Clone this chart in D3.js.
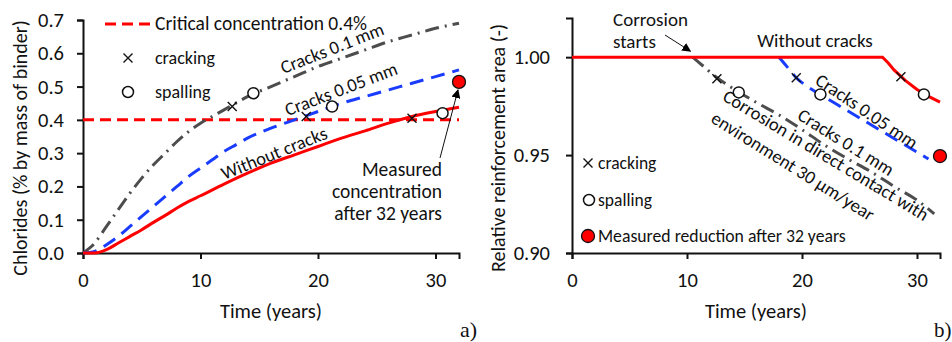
<!DOCTYPE html>
<html>
<head>
<meta charset="utf-8">
<script src="https://cdn.jsdelivr.net/npm/d3@7"></script>
<style>
  html, body { margin: 0; padding: 0; background: #fff; }
  svg { display: block; }
  text { font-family: Carlito, Lato, "Open Sans", sans-serif; fill: #111; }
  .axis path, .axis line { stroke: #111; stroke-width: 2; }
  .axis text { font-size: 20.5px; }
</style>
</head>
<body>
<svg id="chart" width="952" height="342"></svg>
<script>
// ---------- Data: panel a) chlorides ----------
const xTicks = [0, 10, 20, 30];
const chlorideTicks = [0, 0.1, 0.2, 0.3, 0.4, 0.5, 0.6, 0.7];
const criticalLevel = 0.4;
const chlorideNoCracks = [[0,0],[1,0],[2,0.01],[3,0.03],[4,0.05],[5,0.07],[6,0.092],[7,0.113],[8,0.135],[9,0.155],[10,0.172],[12,0.207],[14,0.24],[16,0.27],[18,0.295],[20,0.32],[22,0.345],[24,0.367],[26,0.39],[28,0.41],[30,0.425],[32,0.438]];
const chlorideCracks005 = [[0,0],[1,0.005],[2,0.025],[3,0.05],[4,0.08],[5,0.11],[6,0.14],[7,0.17],[8,0.2],[9,0.23],[10,0.255],[11,0.28],[12,0.305],[13,0.325],[14,0.345],[16,0.375],[18,0.4],[20,0.425],[22,0.45],[24,0.47],[26,0.49],[28,0.51],[30,0.53],[32,0.55]];
const chlorideCracks01 = [[0,0],[1,0.03],[2,0.08],[3,0.13],[4,0.18],[5,0.225],[6,0.265],[7,0.3],[8,0.335],[9,0.365],[10,0.39],[11,0.41],[12,0.43],[13,0.45],[14,0.47],[16,0.5],[18,0.53],[20,0.56],[22,0.585],[24,0.61],[26,0.635],[28,0.655],[30,0.675],[32,0.69]];
const chlorideCracking = [[12.7,0.44],[19,0.41],[28,0.405]];
const chlorideSpalling = [[14.5,0.48],[21.2,0.44],[30.6,0.42]];
const chlorideMeasured = [[32,0.514]];

// ---------- Data: panel b) reinforcement area ----------
const areaTicks = [0.90, 0.95, 1.00];
const areaNoCracks = [[0,1],[27,1],[27.5,0.997],[28,0.9935],[29,0.988],[30,0.9835],[31,0.98],[32,0.977]];
const areaCracks005 = [[18,1.0],[18.5,0.9965],[19,0.993],[19.5,0.9895],[20,0.987],[21,0.983],[22,0.9795],[24,0.9725],[26,0.9655],[28,0.9585],[30,0.9515],[31,0.948]];
const areaCracks01 = [[10.5,1],[11.5,0.995],[12.5,0.99],[14,0.984],[16,0.977],[18,0.9705],[20,0.963],[22,0.955],[24,0.948],[26,0.9415],[28,0.934],[30,0.927],[31.5,0.92]];
const areaCracking = [[12.6,0.989],[19.5,0.9895],[28.6,0.99]];
const areaSpalling = [[14.5,0.982],[21.6,0.981],[30.6,0.981]];
const areaMeasured = [[32,0.9495]];

const RED = "#ff0000", BLUE = "#1a3cff", GRAY = "#4d4d4d";
const svg = d3.select("#chart");

const defs = svg.append("defs");
defs.append("marker").attr("id","arrow").attr("viewBox","0 0 10 10")
  .attr("refX",9).attr("refY",5).attr("markerWidth",9).attr("markerHeight",9)
  .attr("markerUnits","userSpaceOnUse").attr("orient","auto")
  .append("path").attr("d","M0,0 L10,5 L0,10 z").attr("fill","#000");

function panel(opts) {
  const g = svg.append("g");
  const x = d3.scaleLinear().domain([0,32]).range(opts.xr);
  const y = d3.scaleLinear().domain(opts.yd).range(opts.yr);
  g.append("g").attr("class","axis").attr("transform",`translate(0,${opts.yr[0]})`)
    .call(d3.axisBottom(x).tickValues(xTicks).tickSizeOuter(0).tickSize(6).tickPadding(13));
  g.append("g").attr("class","axis").attr("transform",`translate(${opts.xr[0]},0)`)
    .call(d3.axisLeft(y).tickValues(opts.yTicks).tickFormat(d3.format(opts.fmt)).tickSizeOuter(0).tickSize(6).tickPadding(opts.yPad));
  return {g, x, y};
}

function drawLine(p, data, color, dash, curve) {
  p.g.append("path").datum(data)
    .attr("d", d3.line().x(d=>p.x(d[0])).y(d=>p.y(d[1])).curve(curve || d3.curveMonotoneX))
    .attr("fill","none").attr("stroke",color).attr("stroke-width",3)
    .attr("stroke-dasharray", dash);
}
function drawCross(g, cx, cy) {
  const s = 4.5;
  g.append("path").attr("d",`M${cx-s},${cy-s}L${cx+s},${cy+s}M${cx-s},${cy+s}L${cx+s},${cy-s}`)
    .attr("stroke","#111").attr("stroke-width",1.4).attr("fill","none");
}
function drawOpen(g, cx, cy) {
  g.append("circle").attr("cx",cx).attr("cy",cy).attr("r",5.5)
    .attr("fill","#fff").attr("stroke","#111").attr("stroke-width",1.5);
}
function drawMeasured(g, cx, cy) {
  g.append("circle").attr("cx",cx).attr("cy",cy).attr("r",6.5)
    .attr("fill",RED).attr("stroke","#111").attr("stroke-width",1.3);
}
function rotText(g, txt, cx, cy, ang, size) {
  g.append("text").attr("transform",`translate(${cx},${cy}) rotate(${ang})`)
    .attr("text-anchor","middle").attr("dominant-baseline","central")
    .style("font-size", size+"px").text(txt);
}
function label(g, txt, x, y, size, anchor) {
  return g.append("text").attr("x",x).attr("y",y).attr("text-anchor",anchor||"start")
    .style("font-size", size+"px").text(txt);
}

// ================= Panel a =================
const A = panel({xr:[83,459], yd:[0,0.7], yr:[253,20], yTicks: chlorideTicks, fmt: ".1f", yPad: 13});
A.g.append("line").attr("x1",A.x(0)).attr("x2",A.x(32)).attr("y1",A.y(criticalLevel)).attr("y2",A.y(criticalLevel))
  .attr("stroke",RED).attr("stroke-width",3).attr("stroke-dasharray","11,6");
drawLine(A, chlorideCracks01, GRAY, "14,6,2,6");
drawLine(A, chlorideCracks005, BLUE, "14,8");
drawLine(A, chlorideNoCracks, RED, null);
chlorideCracking.forEach(d => drawCross(A.g, A.x(d[0]), A.y(d[1])));
chlorideSpalling.forEach(d => drawOpen(A.g, A.x(d[0]), A.y(d[1])));
// arrow to measured point
A.g.append("line").attr("x1",440).attr("y1",158).attr("x2",A.x(chlorideMeasured[0][0])-1).attr("y2",A.y(chlorideMeasured[0][1])+8)
  .attr("stroke","#111").attr("stroke-width",1).attr("marker-end","url(#arrow)");
chlorideMeasured.forEach(d => drawMeasured(A.g, A.x(d[0]), A.y(d[1])));

// legend a
A.g.append("line").attr("x1",105).attr("x2",152).attr("y1",24).attr("y2",24)
  .attr("stroke",RED).attr("stroke-width",3).attr("stroke-dasharray","11,6");
label(A.g, "Critical concentration 0.4%", 155, 30, 19.5);
drawCross(A.g, 128, 58);
label(A.g, "cracking", 155, 64, 18);
drawOpen(A.g, 128, 92);
label(A.g, "spalling", 155, 98, 18);

rotText(A.g, "Cracks 0.1 mm", 332, 48, -21.5, 18.5);
rotText(A.g, "Cracks 0.05 mm", 341, 89, -21, 18.5);
rotText(A.g, "Without cracks", 274, 153, -22, 18.5);
label(A.g, "Measured", 442, 176, 19.5, "end");
label(A.g, "concentration", 442, 198, 19.5, "end");
label(A.g, "after 32 years", 442, 220, 19.5, "end");

label(A.g, "Time (years)", 271, 318, 20.5, "middle");
A.g.append("text").attr("transform","translate(20,148) rotate(-90)").attr("text-anchor","middle")
  .attr("dominant-baseline","central").style("font-size","20px").text("Chlorides (% by mass of binder)");
A.g.append("text").attr("x",460).attr("y",337).style("font-family","'Liberation Serif', 'DejaVu Serif', serif")
  .style("font-size","22px").text("a)");

// ================= Panel b =================
const B = panel({xr:[572,940], yd:[0.90,1.02], yr:[253,18], yTicks: areaTicks, fmt: ".2f", yPad: 16});
drawLine(B, areaCracks01, GRAY, "14,6,2,6");
drawLine(B, areaCracks005, BLUE, "14,8");
drawLine(B, areaNoCracks, RED, null, d3.curveLinear);
areaCracking.forEach(d => drawCross(B.g, B.x(d[0]), B.y(d[1])));
areaSpalling.forEach(d => drawOpen(B.g, B.x(d[0]), B.y(d[1])));
areaMeasured.forEach(d => drawMeasured(B.g, B.x(d[0]), B.y(d[1])));

// Corrosion starts annotation
label(B.g, "Corrosion", 613, 26, 19);
label(B.g, "starts", 613, 48, 19);
B.g.append("line").attr("x1",665).attr("y1",35).attr("x2",B.x(10.3)).attr("y2",B.y(1.0)-6)
  .attr("stroke","#111").attr("stroke-width",1).attr("marker-end","url(#arrow)");

label(B.g, "Without cracks", 815, 47, 19, "middle");
rotText(B.g, "Cracks 0.05 mm", 867, 111, 34, 18.5);
rotText(B.g, "Cracks 0.1 mm", 846, 142, 32, 18.5);
rotText(B.g, "Corrosion in direct contact with", 826, 155, 31, 18.5);
rotText(B.g, "environment 30 μm/year", 793, 166, 32, 18.5);

// legend b
drawCross(B.g, 588, 163);
label(B.g, "cracking", 598, 169, 17.5);
drawOpen(B.g, 589, 200);
label(B.g, "spalling", 598, 206, 17.5);
drawMeasured(B.g, 588, 236);
label(B.g, "Measured reduction after 32 years", 598, 242, 17.7);

label(B.g, "Time (years)", 756, 318, 20.5, "middle");
B.g.append("text").attr("transform","translate(498,148) rotate(-90)").attr("text-anchor","middle")
  .attr("dominant-baseline","central").style("font-size","20px").text("Relative reinforcement area (-)");
B.g.append("text").attr("x",934).attr("y",337).style("font-family","'Liberation Serif', 'DejaVu Serif', serif")
  .style("font-size","21px").text("b)");
</script>
</body>
</html>
